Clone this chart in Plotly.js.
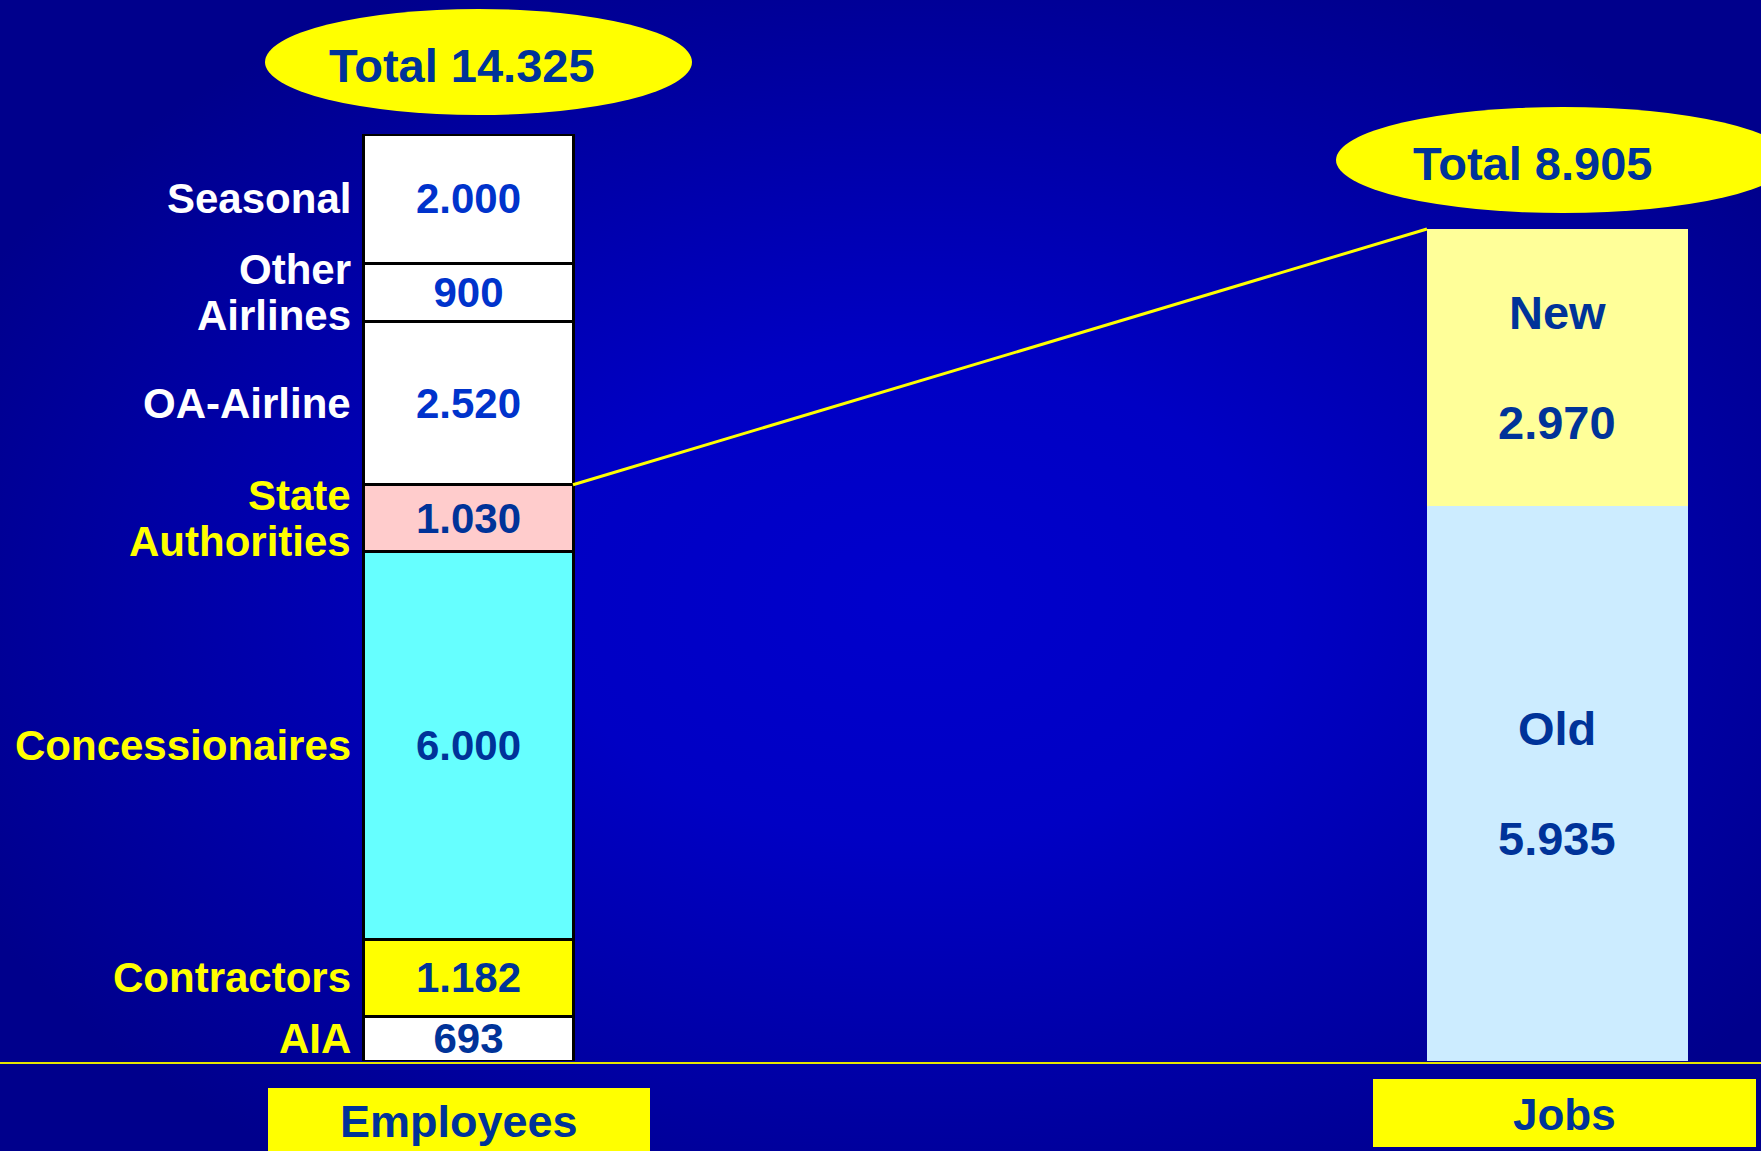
<!DOCTYPE html>
<html>
<head>
<meta charset="utf-8">
<script src="https://cdn.plot.ly/plotly-3.0.1.min.js"></script>
<style>
  html, body { margin: 0; padding: 0; width: 1761px; height: 1151px; overflow: hidden; }
  body { background: radial-gradient(ellipse 60% 60% at 52% 52%, #0000CC 0%, #0000C4 35%, #0000A6 70%, #00008C 100%); }
  #chart { width: 1761px; height: 1151px; }
</style>
</head>
<body>
<div id="chart"></div>
<script>
// ---------------- DATA ----------------
const categories = ['Employees', 'Jobs'];
const employeeGroups = ['AIA', 'Contractors', 'Concessionaires', 'State<br>Authorities', 'OA-Airline', 'Other<br>Airlines', 'Seasonal'];
const employeeValues = [693, 1182, 6000, 1030, 2520, 900, 2000];
const jobGroups = ['Old', 'New'];
const jobValues = [5935, 2970];
const linkedGroup = 'State<br>Authorities'; // employee groups up to this one correspond to the jobs total

// ---------------- STYLE ----------------
const W = 1761, H = 1151;
const PLOT_TOP = 134, PLOT_BOTTOM = 1061;
const FONT = '"Liberation Sans", Arial, Helvetica, sans-serif';
const DARK = '#003399', BRIGHT = '#0033CC', YELLOW = '#FFFF00', WHITE = '#FFFFFF';
const employeeFill = ['#FFFFFF', '#FFFF00', '#66FFFF', '#FFCCCC', '#FFFFFF', '#FFFFFF', '#FFFFFF'];
const employeeLabelColor = [YELLOW, YELLOW, YELLOW, YELLOW, WHITE, WHITE, WHITE];
const employeeValueColor = [DARK, DARK, DARK, DARK, BRIGHT, BRIGHT, BRIGHT];
const jobFill = ['#CCECFF', '#FFFF99'];
const barWidths = [0.192, 0.2397];
const xRange = [-0.4302, 1.1869];
const jobsAxisFactor = 927 / 832; // the jobs column is drawn on its own scale
const LABEL_LINE_GAP = 46;  // px between lines of two-line labels
const JOB_LINE_GAP = 110;   // px between name and value inside job segments

// helpers
const fmt = n => String(n).replace(/\B(?=(\d{3})+(?!\d))/g, '.');
const sum = a => a.reduce((s, v) => s + v, 0);
const px = x => x / W;
const py = y => (PLOT_BOTTOM - y) / (PLOT_BOTTOM - PLOT_TOP);

const empTotal = sum(employeeValues);
const jobTotal = sum(jobValues);
const y2Max = jobTotal * jobsAxisFactor;
const linkedCum = sum(employeeValues.slice(0, employeeGroups.indexOf(linkedGroup) + 1));

const traces = [];
employeeGroups.forEach((g, i) => {
  traces.push({
    type: 'bar', x: [0], y: [employeeValues[i]], width: [barWidths[0]],
    name: g.replace('<br>', ' '), xaxis: 'x', yaxis: 'y',
    marker: { color: employeeFill[i], line: { color: '#000000', width: 3 } },
    text: ['<b>' + fmt(employeeValues[i]) + '</b>'], texttemplate: '%{text}',
    textposition: 'inside', insidetextanchor: 'middle', constraintext: 'none', textangle: 0,
    textfont: { family: FONT, size: 42, color: employeeValueColor[i] },
    cliponaxis: false, hoverinfo: 'name+y'
  });
});
jobGroups.forEach((g, i) => {
  traces.push({
    type: 'bar', x: [1], y: [jobValues[i]], width: [barWidths[1]],
    name: g, xaxis: 'x', yaxis: 'y2',
    marker: { color: jobFill[i], line: { width: 0 } },
    textposition: 'none', cliponaxis: false, hoverinfo: 'name+y'
  });
});
// connector line: top of the linked employee groups -> top of jobs column
traces.push({
  type: 'scatter', mode: 'lines', xaxis: 'x', yaxis: 'y2',
  x: [0 + barWidths[0] / 2, 1 - barWidths[1] / 2],
  y: [linkedCum * y2Max / empTotal, jobTotal],
  line: { color: YELLOW, width: 3 }, hoverinfo: 'skip', showlegend: false
});

const annotations = [];
let cum = 0;
employeeGroups.forEach((g, i) => {
  const lines = g.split('<br>');
  const mid = cum + employeeValues[i] / 2;
  lines.forEach((ln, k) => {
    const off = (lines.length - 1) / 2 - k; // positive = upwards
    annotations.push({
      xref: 'x', yref: 'y', x: -barWidths[0] / 2, y: mid,
      xanchor: 'right', yanchor: 'middle', xshift: -11, yshift: off * LABEL_LINE_GAP,
      align: 'right', showarrow: false,
      text: '<b>' + ln + '</b>', font: { family: FONT, size: 42, color: employeeLabelColor[i] }
    });
  });
  cum += employeeValues[i];
});
let jcum = 0;
jobGroups.forEach((g, i) => {
  const mid = jcum + jobValues[i] / 2;
  [['<b>' + g + '</b>', JOB_LINE_GAP / 2], ['<b>' + fmt(jobValues[i]) + '</b>', -JOB_LINE_GAP / 2]].forEach(([t, s]) => {
    annotations.push({
      xref: 'x', yref: 'y2', x: 1, y: mid, yshift: s, xanchor: 'center', yanchor: 'middle',
      showarrow: false, text: t, font: { family: FONT, size: 47, color: DARK }
    });
  });
  jcum += jobValues[i];
});
annotations.push(
  { xref: 'paper', yref: 'paper', x: px(462), y: py(65), showarrow: false, xanchor: 'center', yanchor: 'middle',
    text: '<b>Total ' + fmt(empTotal) + '</b>', font: { family: FONT, size: 47, color: DARK } },
  { xref: 'paper', yref: 'paper', x: px(1532), y: py(163), showarrow: false, xanchor: 'center', yanchor: 'middle',
    text: '<b>Total ' + fmt(jobTotal) + '</b>', font: { family: FONT, size: 47, color: DARK } },
  { xref: 'paper', yref: 'paper', x: px(459), y: py(1121), showarrow: false, xanchor: 'center', yanchor: 'middle',
    text: '<b>' + categories[0] + '</b>', font: { family: FONT, size: 45, color: DARK } },
  { xref: 'paper', yref: 'paper', x: px(1564), y: py(1114), showarrow: false, xanchor: 'center', yanchor: 'middle',
    text: '<b>' + categories[1] + '</b>', font: { family: FONT, size: 44, color: DARK } }
);

const shapes = [
  { type: 'circle', xref: 'paper', yref: 'paper', x0: px(265), x1: px(692), y0: py(115), y1: py(9),
    fillcolor: YELLOW, line: { width: 0 }, layer: 'above' },
  { type: 'circle', xref: 'paper', yref: 'paper', x0: px(1336), x1: px(1790), y0: py(213), y1: py(107),
    fillcolor: YELLOW, line: { width: 0 }, layer: 'above' },
  { type: 'rect', xref: 'paper', yref: 'paper', x0: px(268), x1: px(650), y0: py(1165), y1: py(1088),
    fillcolor: YELLOW, line: { width: 0 }, layer: 'above' },
  { type: 'rect', xref: 'paper', yref: 'paper', x0: px(1373), x1: px(1756), y0: py(1147), y1: py(1079),
    fillcolor: YELLOW, line: { width: 0 }, layer: 'above' },
  { type: 'line', xref: 'paper', yref: 'paper', x0: 0, x1: 1, y0: py(1063), y1: py(1063),
    line: { color: '#E6E600', width: 2 }, layer: 'above' }
];

const layout = {
  width: W, height: H, autosize: false,
  margin: { l: 0, r: 0, t: PLOT_TOP, b: H - PLOT_BOTTOM, pad: 0 },
  paper_bgcolor: 'rgba(0,0,0,0)', plot_bgcolor: 'rgba(0,0,0,0)',
  barmode: 'stack', bargap: 0, showlegend: false,
  font: { family: FONT },
  xaxis: { range: xRange, visible: false, fixedrange: true },
  yaxis: { range: [0, empTotal], visible: false, fixedrange: true },
  yaxis2: { range: [0, y2Max], overlaying: 'y', side: 'right', visible: false, fixedrange: true },
  annotations: annotations, shapes: shapes
};

Plotly.newPlot('chart', traces, layout, { displayModeBar: false, staticPlot: true });
</script>
</body>
</html>
